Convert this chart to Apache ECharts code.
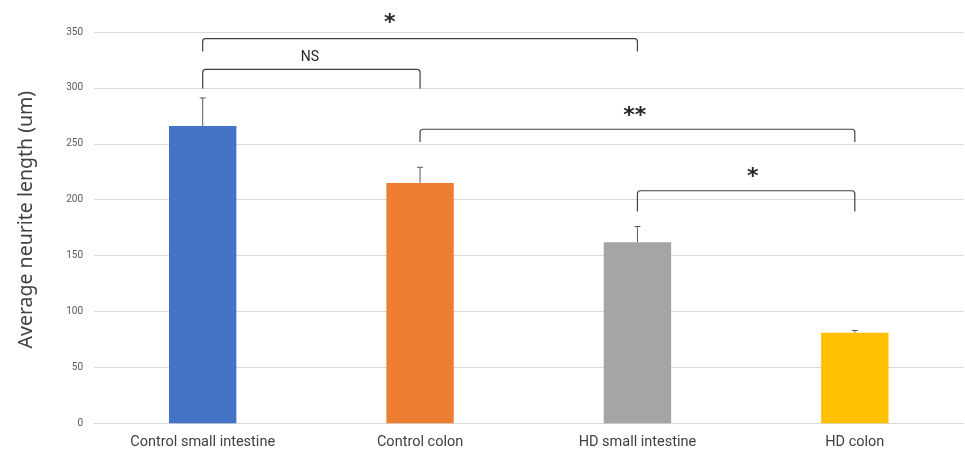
<!DOCTYPE html>
<html>
<head>
<meta charset="utf-8">
<script src="https://cdn.jsdelivr.net/npm/echarts@6/dist/echarts.min.js"></script>
<style>html,body{margin:0;padding:0;background:#fff}#c{width:965px;height:454px}</style>
</head>
<body>
<div id="c"></div>
<script>
// ---- data ----
var categories = ['Control small intestine', 'Control colon', 'HD small intestine', 'HD colon'];
var means = [266, 215, 162, 81];
var errors = [25, 14, 14, 2];
var barColors = ['#4472C4', '#ED7D31', '#A5A5A5', '#FFC000'];
var yTicks = { min: 0, max: 350, interval: 50 };
var yTitle = 'Average neurite length (um)';
// brackets: from category index, to category index, top value, foot value
var bracketFrom = [0, 0, 1, 2];
var bracketTo = [2, 1, 3, 3];
var bracketTop = [344, 316.5, 263, 208];
var bracketFoot = [332.5, 299.5, 251.5, 189.5];
// significance labels: text, x position (category index units), value
var sigText = ['*', 'NS', '**', '*'];
var sigX = [0.861, 0.493, 1.988, 2.531];
var sigY = [358, 327, 275, 220];

var chart = echarts.init(document.getElementById('c'));
var radius = 3;
var option = {
  animation: false,
  grid: { left: 94, right: 1.5, top: 32, bottom: 30.7 },
  xAxis: [{
    type: 'category', data: categories,
    axisLine: { lineStyle: { color: '#d9d9d9' } },
    axisTick: { show: false },
    axisLabel: { color: '#404040', fontSize: 14.5, fontFamily: 'Roboto', margin: 12 }
  }, {
    type: 'value', min: -0.5, max: 3.5, show: false
  }],
  yAxis: {
    type: 'value', min: yTicks.min, max: yTicks.max, interval: yTicks.interval,
    name: yTitle, nameLocation: 'middle', nameGap: 58,
    nameTextStyle: { fontSize: 19.5, color: '#404040', fontFamily: 'Noto Sans', fontWeight: 'normal', padding: [0, 0, 0, 16] },
    axisLine: { show: false }, axisTick: { show: false },
    axisLabel: { color: '#595959', fontSize: 10, fontFamily: 'Roboto', margin: 11 },
    splitLine: { lineStyle: { color: '#d9d9d9' } }
  },
  series: [{
    type: 'bar', barWidth: '31%',
    data: means.map(function (v, i) { return { value: v, itemStyle: { color: barColors[i] } }; })
  }, {
    type: 'custom', xAxisIndex: 0,
    data: means.map(function (v, i) { return [i, v, v + errors[i]]; }),
    renderItem: function (params, api) {
      var b = api.coord([api.value(0), api.value(1)]);
      var t = api.coord([api.value(0), api.value(2)]);
      var s = { stroke: '#595959', lineWidth: 1 };
      return { type: 'group', children: [
        { type: 'line', shape: { x1: b[0], y1: b[1], x2: t[0], y2: t[1] }, style: s },
        { type: 'line', shape: { x1: t[0] - 3, y1: t[1], x2: t[0] + 3, y2: t[1] }, style: s }
      ] };
    },
    z: 3
  }, {
    type: 'custom', xAxisIndex: 1,
    data: bracketFrom.map(function (f, i) { return [f, bracketTo[i], bracketTop[i], bracketFoot[i]]; }),
    renderItem: function (params, api) {
      var a = api.coord([api.value(0), api.value(2)]);
      var b = api.coord([api.value(1), api.value(2)]);
      var foot = api.coord([api.value(0), api.value(3)]);
      var x1 = a[0], x2 = b[0], y = a[1], yf = foot[1];
      var r = radius;
      var path = 'M' + x1 + ' ' + yf + ' L' + x1 + ' ' + (y + r) +
        ' Q' + x1 + ' ' + y + ' ' + (x1 + r) + ' ' + y +
        ' L' + (x2 - r) + ' ' + y +
        ' Q' + x2 + ' ' + y + ' ' + x2 + ' ' + (y + r) +
        ' L' + x2 + ' ' + yf;
      return { type: 'path', shape: { pathData: path }, style: { stroke: '#404040', lineWidth: 1.2, fill: null } };
    },
    z: 4
  }, {
    type: 'custom', xAxisIndex: 1,
    data: sigText.map(function (t, i) { return [sigX[i], sigY[i], i]; }),
    renderItem: function (params, api) {
      var p = api.coord([api.value(0), api.value(1)]);
      var txt = sigText[api.value(2)];
      var isNS = txt === 'NS';
      return { type: 'text', x: p[0], y: p[1], style: {
        text: txt, align: 'center', verticalAlign: 'middle',
        fill: '#262626',
        font: (isNS ? '14px Roboto' : 'bold 22px "DejaVu Sans"')
      } };
    },
    z: 5
  }]
};
chart.setOption(option);
</script>
</body>
</html>
